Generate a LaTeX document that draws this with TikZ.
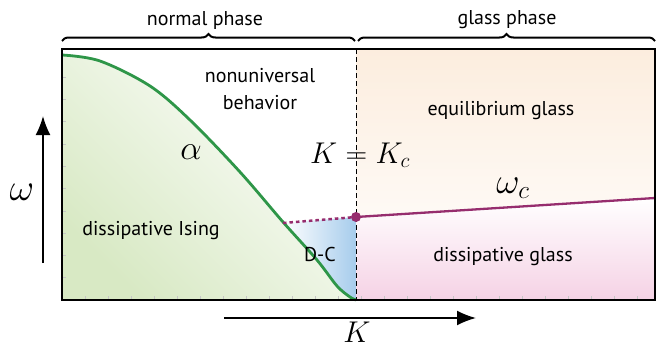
\documentclass[tikz,border=0pt]{standalone}
\usepackage{fix-cm}
\usepackage{fontspec}
\setmainfont{PT Sans}
\usetikzlibrary{decorations.pathreplacing,arrows.meta}

\definecolor{curvegreen}{RGB}{46,150,72}
\definecolor{critpurple}{RGB}{150,45,110}
\definecolor{isinggreen}{RGB}{216,233,196}
\definecolor{glasspeach}{RGB}{252,237,222}
\definecolor{glasspink}{RGB}{245,210,229}
\definecolor{dcblue}{RGB}{166,204,236}

\tikzset{
  regionlabel/.style={font=\fontsize{20}{27}\selectfont, align=center},
  mathlabel/.style={font=\fontsize{30}{32}\selectfont},
  axisarrow/.style={-{Latex[length=19pt,width=15pt]}, line width=1.8pt},
  phasebrace/.style={decorate, decoration={brace, amplitude=7pt}, line width=2pt},
  tickmark/.style={gray!45, line width=0.6pt},
}

\begin{document}
\begin{tikzpicture}[x=1pt,y=-1pt]
  \useasboundingbox (0,0) rectangle (661,348);
  %% frame limits and the critical coupling K_c
  \def\xl{62} \def\xr{655} \def\yt{49} \def\yb{300} \def\xc{356}

  \coordinate (tl) at (\xl,\yt);
  \coordinate (tr) at (\xr,\yt);
  \coordinate (bl) at (\xl,\yb);
  \coordinate (br) at (\xr,\yb);
  \coordinate (kctop) at (\xc,\yt);
  \coordinate (kcbot) at (\xc,\yb);
  \coordinate (dcend) at (283,223);
  \coordinate (crit) at (\xc,217);
  \coordinate (wcend) at (\xr,198);

  %% shaded regions
  \shade[shading=axis, bottom color=isinggreen, top color=white, shading angle=-45]
    plot[smooth, tension=0.55] coordinates {(62,55) (100,61) (150,86) (190,120)
      (240,172) (283,222) (317,260) (337,286) (350,297) (356,300)}
    -- (bl) -- cycle;
  \shade[left color=white, right color=dcblue]
    (dcend) -- (crit) -- (kcbot)
    plot[smooth, tension=0.55] coordinates {(356,300) (350,297) (337,286)
      (317,260) (300,241) (283,222)} -- cycle;
  \shade[top color=glasspeach, bottom color=white!70!glasspeach]
    (kctop) -- (tr) -- (wcend) -- (crit) -- cycle;
  \shade[top color=white, bottom color=glasspink]
    (crit) -- (wcend) -- (br) -- (kcbot) -- cycle;

  %% faint ticks on the two axes
  \foreach \k in {1,...,25}
    \draw[tickmark] (\xl+23*\k,\yb) -- ++(0,-4);
  \foreach \k in {1,...,10}
    \draw[tickmark] (\xl,\yb-22.3*\k) -- ++(4,0);

  %% K = K_c
  \draw[line width=0.8pt, dash pattern=on 5pt off 3pt] (kctop) -- (kcbot);

  %% phase boundaries
  \draw[curvegreen, line width=2.8pt]
    plot[smooth, tension=0.55] coordinates {(62,55) (100,61) (150,86) (190,120)
      (240,172) (283,222) (317,260) (337,286) (350,297) (356,300)};
  \draw[curvegreen, line width=2pt] (kcbot) -- (br);
  \draw[critpurple, line width=2.5pt, dash pattern=on 3.5pt off 3pt] (dcend) -- (crit);
  \draw[critpurple, line width=2.3pt] (crit) -- (wcend);
  \fill[critpurple] (crit) circle (5pt);

  \draw[line width=1.5pt] (tl) rectangle (br);

  %% phase braces
  \draw[phasebrace] (\xl,41) -- (\xc-1,41) coordinate[midway] (normaltip);
  \draw[phasebrace] (\xc+2,41) -- (\xr,41) coordinate[midway] (glasstip);
  \node[regionlabel] (normal) at (205,20) {normal phase};
  \node[regionlabel] (glass) at (507,20) {glass phase};

  %% labels
  \node[regionlabel] (nonuni) at (260,89) {nonuniversal\\behavior};
  \node[regionlabel] (eqglass) at (501,111) {equilibrium glass};
  \node[regionlabel] (ising) at (151,231) {dissipative Ising};
  \node[regionlabel] (dc) at (320,254) {D-C};
  \node[regionlabel] (dglass) at (503,257) {dissipative glass};
  \node[mathlabel, font=\fontsize{34}{36}\selectfont] (alpha) at (191,152) {$\alpha$};
  \node[mathlabel] (kc) at (360,155) {$K=K_c$};
  \node[mathlabel, font=\fontsize{36}{38}\selectfont] (omc) at (513,188) {$\omega_c$};
  \node[mathlabel, font=\fontsize{38}{40}\selectfont] (omega) at (22,192) {$\omega$};
  \node[mathlabel, inner sep=1pt] (kay) at (357,332) {$K$};

  %% axis arrows
  \coordinate (wfrom) at (43,263);
  \coordinate (wto) at (43,116);
  \coordinate (kfrom) at (224,318);
  \coordinate (kto) at (476,318);
  \draw[axisarrow] (wfrom) -- (wto);
  \draw[axisarrow] (kfrom) -- (kto);
\end{tikzpicture}
\end{document}
